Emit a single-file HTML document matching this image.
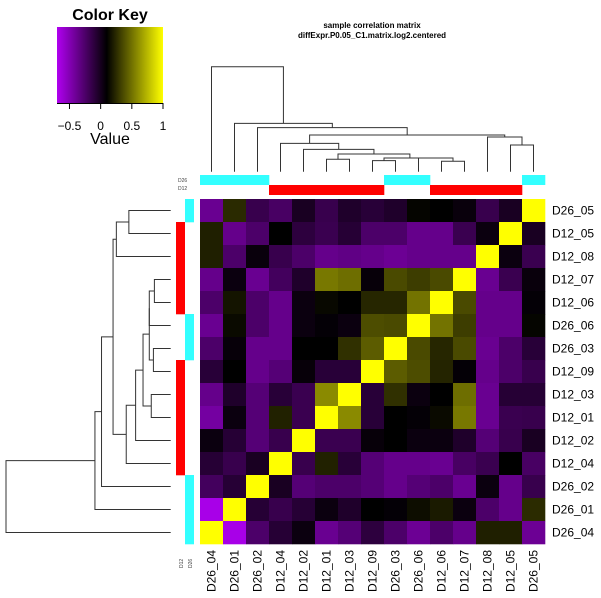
<!DOCTYPE html>
<html><head><meta charset="utf-8"><style>
html,body{margin:0;padding:0;background:#fff}
svg{display:block;font-family:"Liberation Sans",sans-serif}
</style></head><body>
<svg id="c" width="601" height="598" viewBox="0 0 601 598">
<defs><linearGradient id="kg" x1="0" x2="1"><stop offset="0" stop-color="#b000f0"/><stop offset="0.47" stop-color="#000"/><stop offset="1" stop-color="#ffff00"/></linearGradient></defs>
<g>
<text x="110" y="20" text-anchor="middle" font-size="16" font-weight="bold">Color Key</text>
<rect x="57" y="27" width="106" height="76" fill="url(#kg)"/>
<g id="keyaxis"></g>
<text x="110" y="144" text-anchor="middle" font-size="16">Value</text>
</g>
<text x="372" y="28" text-anchor="middle" font-size="8" font-weight="bold">sample correlation matrix</text>
<text x="372" y="38" text-anchor="middle" font-size="8" font-weight="bold">diffExpr.P0.05_C1.matrix.log2.centered</text>
<g id="cells"></g>
<g id="coldend" stroke="#333" stroke-width="1" fill="none"></g>
<g id="rowdend" stroke="#333" stroke-width="1" fill="none"></g>
<g id="bars"></g>
<g id="labels" font-size="12"></g>
<text x="178" y="182" font-size="5" fill="#444">D26</text>
<text x="178" y="190" font-size="5" fill="#444">D12</text>
<text transform="translate(183,568) rotate(-90)" font-size="5" fill="#444">D12</text>
<text transform="translate(192,568) rotate(-90)" font-size="5" fill="#444">D26</text>
</svg>
<script>
const samples = ["D26_04","D26_01","D26_02","D12_04","D12_02","D12_01","D12_03","D12_09","D26_03","D26_06","D12_06","D12_07","D12_08","D12_05","D26_05"];
const groups = ["D26","D26","D26","D12","D12","D12","D12","D12","D26","D26","D12","D12","D12","D12","D26"];
// rows listed top to bottom (D26_05 first), columns left to right (samples order)
const matrixRows = [
[-0.47,0.165,-0.25,-0.32,-0.11,-0.25,-0.14,-0.18,-0.14,0.02,0,-0.04,-0.25,-0.11,1],
[0.12,-0.45,-0.34,0,-0.2,-0.26,-0.17,-0.34,-0.34,-0.45,-0.45,-0.26,-0.05,1,-0.11],
[0.12,-0.34,-0.04,-0.25,-0.34,-0.45,-0.43,-0.45,-0.48,-0.45,-0.45,-0.45,1,-0.05,-0.26],
[-0.45,-0.05,-0.47,-0.30,-0.14,0.47,0.43,-0.03,0.29,0.24,0.29,1,-0.47,-0.26,-0.04],
[-0.34,0.08,-0.34,-0.45,-0.05,0.03,0,0.15,0.15,0.45,1,0.29,-0.45,-0.45,-0.02],
[-0.47,0.04,-0.34,-0.45,-0.05,-0.02,-0.05,0.3,0.29,1,0.45,0.24,-0.45,-0.45,0.02],
[-0.34,-0.03,-0.45,-0.45,0,0,0.19,0.36,1,0.29,0.15,0.29,-0.47,-0.34,-0.18],
[-0.18,0,-0.45,-0.38,-0.03,-0.18,-0.18,1,0.36,0.3,0.14,-0.02,-0.45,-0.34,-0.25],
[-0.45,-0.14,-0.38,-0.18,-0.26,0.54,1,-0.18,0.19,-0.05,0,0.43,-0.47,-0.17,-0.17],
[-0.52,-0.05,-0.38,0.13,-0.26,1,0.54,-0.18,0,-0.02,0.04,0.47,-0.47,-0.26,-0.25],
[-0.05,-0.17,-0.38,-0.25,1,-0.26,-0.26,-0.03,0,-0.05,-0.05,-0.14,-0.38,-0.25,-0.11],
[-0.17,-0.25,-0.11,1,-0.25,0.13,-0.18,-0.38,-0.45,-0.45,-0.47,-0.32,-0.26,0,-0.32],
[-0.30,-0.17,1,-0.11,-0.38,-0.34,-0.34,-0.38,-0.45,-0.38,-0.34,-0.47,-0.05,-0.45,-0.25],
[-0.75,1,-0.17,-0.25,-0.17,-0.05,-0.14,0,-0.02,0.05,0.1,-0.05,-0.34,-0.45,0.17],
[1,-0.75,-0.34,-0.17,-0.05,-0.47,-0.38,-0.2,-0.34,-0.48,-0.34,-0.45,0.12,0.12,-0.48]
];
// dendrogram merges: [left, right, height]; leaves are 0..14, merge k is id 15+k
const merges = [
[10,11,0.099],[7,8,0.105],[5,6,0.118],[9,15,0.13],[16,18,0.13],[17,19,0.168],
[4,20,0.213],[3,21,0.27],[13,14,0.254],[12,23,0.33],[22,24,0.35],[2,25,0.42],[1,26,0.46],[0,27,1]
];
const keyTicks = [-0.5,0,0.5,1];
const keyMin = -0.7, keyMax = 1;

const NS="http://www.w3.org/2000/svg";
const X0=200, Y0=199, CW=23, CH=23, N=samples.length;
const colX = i => X0 + i*CW;
const rowY = r => Y0 + r*CH;
function mk(tag, attrs, parent){const e=document.createElementNS(NS,tag);for(const k in attrs)e.setAttribute(k,attrs[k]);parent.appendChild(e);return e;}
function color(v){
  if(v>=0){const g=Math.round(255*Math.min(v,1));return `rgb(${g},${g},0)`;}
  const t=Math.min(-v/0.75,1);return `rgb(${Math.round(168*t)},0,${Math.round(232*t)})`;
}
const cells=document.getElementById('cells');
matrixRows.forEach((row,r)=>row.forEach((v,c)=>{
  const e=mk('rect',{x:colX(c),y:rowY(r),width:CW+0.3,height:CH+0.3,fill:color(v)},cells);
  
  
}));
// key axis
const ka=document.getElementById('keyaxis');
const kx=v=>57+(v-keyMin)/(keyMax-keyMin)*106;
mk('line',{x1:57,x2:163,y1:103.5,y2:103.5,stroke:'#000'},ka);
keyTicks.forEach(t=>{
  mk('line',{x1:kx(t),x2:kx(t),y1:103,y2:109,stroke:'#000'},ka);
  const tx=mk('text',{x:kx(t),y:130,'text-anchor':'middle','font-size':12},ka);
  tx.textContent=(t<0?'\u2212':'')+Math.abs(t);
  
  
});
// dendrograms
const pos={},ht={};
for(let i=0;i<N;i++){pos[i]=i+0.5;ht[i]=0;}
const cd=document.getElementById('coldend'), rd=document.getElementById('rowdend');
const cy=h=>171.7-h*105, rx=h=>170.7-h*164.7;
merges.forEach((m,k)=>{
  const [a,b,h]=m, id=N+k;
  pos[id]=(pos[a]+pos[b])/2; ht[id]=h;
  const xa=X0+pos[a]*CW, xb=X0+pos[b]*CW;
  const e=mk('path',{d:`M${xa},${cy(ht[a])}V${cy(h)}H${xb}V${cy(ht[b])}`},cd);
  
  
  const ya=Y0+(N-pos[a])*CH, yb=Y0+(N-pos[b])*CH;
  const f=mk('path',{d:`M${rx(ht[a])},${ya}H${rx(h)}V${yb}H${rx(ht[b])}`},rd);
  
  
});
// side bars
const bars=document.getElementById('bars');
groups.forEach((g,i)=>{
  const cyan='#33ffff', red='#ff0000';
  const e=mk('rect',{x:colX(i),y:g==='D26'?175:185,width:CW+0.3,height:10,fill:g==='D26'?cyan:red},bars);
  
  
  const r=N-1-i;
  const f=mk('rect',{x:g==='D26'?185:176,y:rowY(r),width:9,height:CH+0.3,fill:g==='D26'?cyan:red},bars);
  
  
});
// labels
const lab=document.getElementById('labels');
samples.forEach((s,i)=>{
  const r=N-1-i;
  const t=mk('text',{x:552,y:rowY(r)+CH/2+4},lab);
  t.textContent=s;
  
  
  const u=mk('text',{transform:`translate(${colX(i)+CW/2+4},550) rotate(-90)`,'text-anchor':'end'},lab);
  u.textContent=s;
  
  
});
</script>
</body></html>
